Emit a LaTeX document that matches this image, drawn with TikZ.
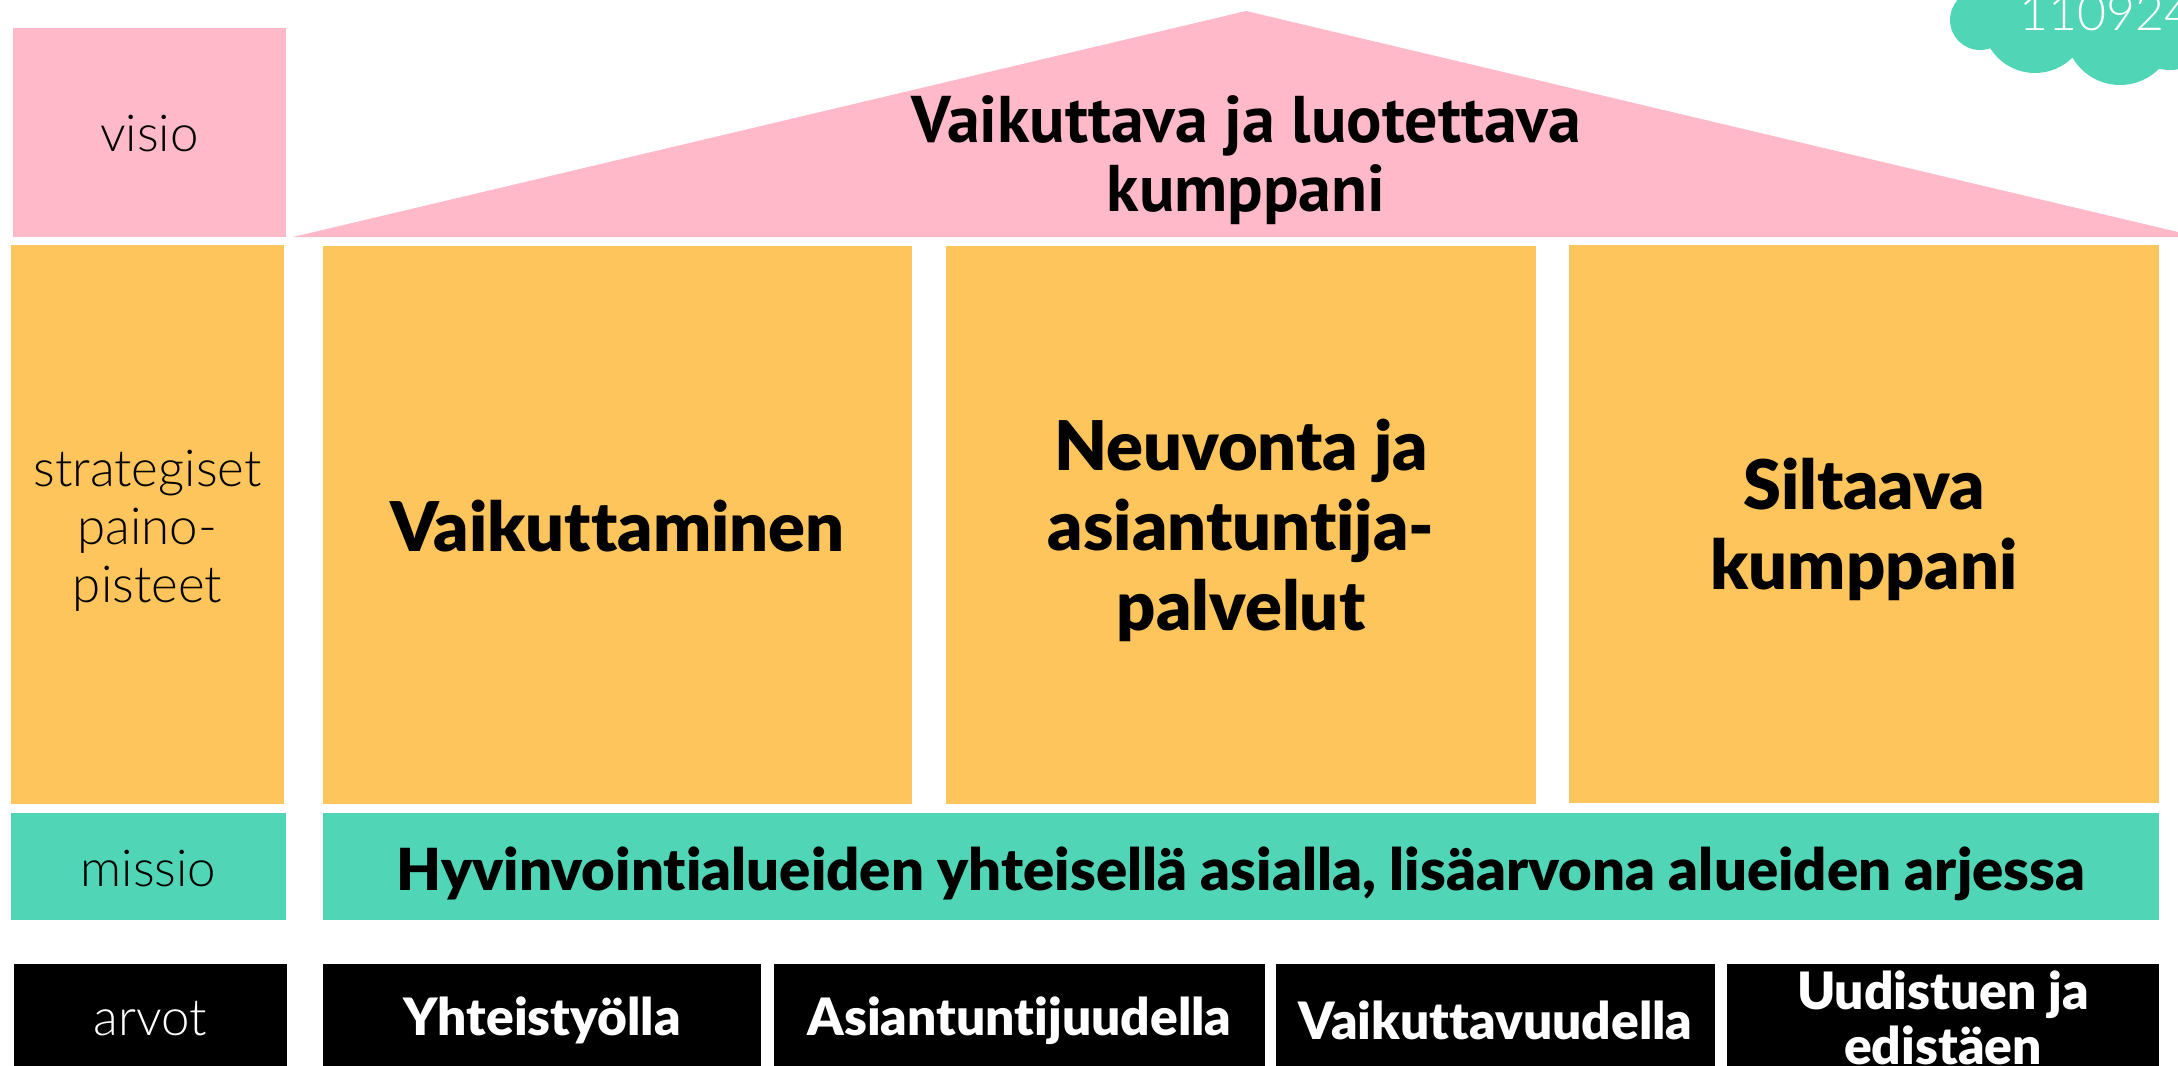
\documentclass[tikz,border=0pt]{standalone}
\usepackage{fontspec}
\setmainfont{Lato}
\newfontfamily\lightf{Lato Light}
\newfontfamily\boldf{Lato Black}[Ligatures={NoCommon,NoRequired,NoContextual}]
\newfontfamily\visf{PT Sans}[Ligatures={NoCommon}]
\definecolor{pinkc}{RGB}{255,185,200}
\definecolor{orangec}{RGB}{254,197,92}
\definecolor{tealc}{RGB}{80,214,182}
\tikzset{
  box/.style={rectangle, draw=none, inner sep=0pt, outer sep=0pt, align=center},
  txt/.style={inner sep=0pt, outer sep=0pt, align=center},
  lbl/.style={txt, font=\lightf\fontsize{51}{58}\selectfont},
  big/.style={txt, font=\boldf\fontsize{68.5}{80}\selectfont},
  mis/.style={txt, font=\boldf\fontsize{58}{66}\selectfont},
  val/.style={txt, text=white, font=\boldf\fontsize{51.5}{55}\selectfont},
  vis/.style={txt, font=\visf\bfseries\fontsize{66}{69.5}\selectfont},
}
\begin{document}
\begin{tikzpicture}[x=1pt,y=-1pt]
\useasboundingbox (0,0) rectangle (2178,1065);
\clip (0,0) rectangle (2178,1065);
% roof
\fill[pinkc] (293,237) -- (1246,11) -- (2199,237) -- cycle;
\coordinate (apex) at (1246,11);
\node[vis] (vtext) at (1246,160) {Vaikuttava ja luotettava\\kumppani};
% left column
\node[box, fill=pinkc, minimum width=273pt, minimum height=209pt] (visio) at (149.5,132.5) {};
\node[lbl] (visiot) at ([yshift=-1pt]visio.center) {visio};
\node[box, fill=orangec, minimum width=273pt, minimum height=559pt] (strat) at (147.5,524.5) {};
\node[lbl] (stratt) at ([yshift=-6pt]strat.center) {strategiset\\paino-\\pisteet};
\node[box, fill=tealc, minimum width=275pt, minimum height=107pt] (missio) at (148.5,866.5) {};
\node[lbl] (missiot) at ([yshift=-2pt]missio.center) {missio};
\node[box, fill=black, minimum width=273pt, minimum height=112pt] (arvot) at (150.5,1019.5) {};
\node[lbl, text=white] (arvott) at ([yshift=1pt]arvot.center) {arvot};
% priorities
\node[box, fill=orangec, minimum width=589pt, minimum height=558pt] (p1) at (617.5,525) {};
\node[big] (p1t) at ([yshift=-1pt]p1.center) {Vaikuttaminen};
\node[box, fill=orangec, minimum width=590pt, minimum height=558pt] (p2) at (1241,525) {};
\node[big] (p2t) at ([yshift=-5pt]p2.center) {Neuvonta ja\\asiantuntija-\\palvelut};
\node[box, fill=orangec, minimum width=590pt, minimum height=558pt] (p3) at (1864,524) {};
\node[big] (p3t) at ([yshift=-5pt]p3.center) {Siltaava\\kumppani};
% mission
\node[box, fill=tealc, minimum width=1836pt, minimum height=107pt] (mbar) at (1241,866.5) {};
\node[mis] (mbart) at ([yshift=-7pt]mbar.center) {Hyvinvointialueiden yhteisellä asialla, lisäarvona alueiden arjessa};
% values
\node[box, fill=black, minimum width=438pt, minimum height=111pt] (v1) at (542,1019.5) {};
\node[val] (v1t) at ([yshift=-1pt]v1.center) {Yhteistyölla};
\node[box, fill=black, minimum width=491pt, minimum height=111pt] (v2) at (1019.5,1019.5) {};
\node[val] (v2t) at ([yshift=-1pt]v2.center) {Asiantuntijuudella};
\node[box, fill=black, minimum width=439pt, minimum height=111pt] (v3) at (1495.5,1019.5) {};
\node[val] (v3t) at ([yshift=-1pt]v3.center) {Vaikuttavuudella};
\node[box, fill=black, minimum width=432pt, minimum height=111pt] (v4) at (1943,1019.5) {};
\node[val] (v4t) at ([yshift=2pt]v4.center) {Uudistuen ja\\edistäen};
% cloud
\fill[tealc] (1980,20) circle (30) (1985,-20) circle (35) (2035,20) circle (53)
  (2120,30) circle (55) (2170,20) circle (50);
\fill[tealc] (1985,-10) rectangle (2178,35);
\node[anchor=base west, inner sep=0pt, text=white, font=\lightf\fontsize{50}{54}\selectfont] (date) at (2019,31) {110924};
\end{tikzpicture}
\end{document}
